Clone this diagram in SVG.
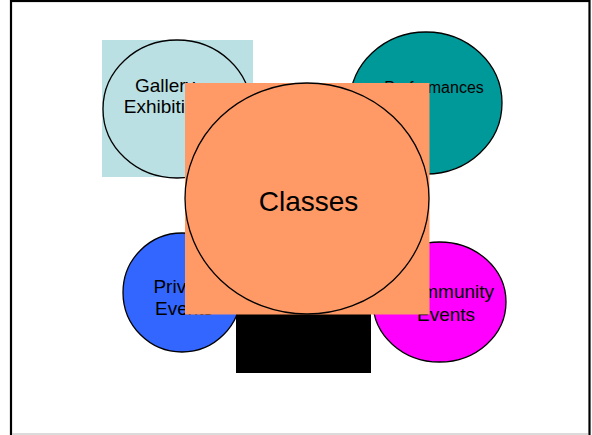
<svg xmlns="http://www.w3.org/2000/svg" width="592" height="435" viewBox="0 0 592 435">
  <style>
    .outline { stroke: #000; stroke-width: 1.3; }
    .label { font-family: "Liberation Sans", Arial, sans-serif; fill: #000; text-anchor: middle; }
  </style>
  <rect width="592" height="435" fill="#fff"/>
  <!-- slide frame -->
  <rect id="frame" x="11" y="1" width="578.5" height="460" fill="none" stroke="#000" stroke-width="2.2"/>
  <line x1="12" y1="434" x2="588" y2="434" stroke="#cfcfcf" stroke-width="1.5"/>

  <g id="gallery">
    <rect x="102" y="40" width="151" height="137" fill="#bbe0e3"/>
    <ellipse cx="177" cy="109" rx="74" ry="69" fill="#bbe0e3" class="outline"/>
    <text class="label" font-size="19" x="165" y="92">Gallery</text>
    <text class="label" font-size="19" x="165" y="113">Exhibition</text>
  </g>

  <g id="performances">
    <ellipse cx="426" cy="103" rx="76" ry="71" fill="#009999" class="outline"/>
    <text class="label" font-size="16" x="434" y="93">Performances</text>
  </g>

  <g id="private-events">
    <ellipse cx="182" cy="292.5" rx="59" ry="59.5" fill="#3366ff" class="outline"/>
    <text class="label" font-size="19" x="183" y="293">Private</text>
    <text class="label" font-size="19" x="184" y="315">Events</text>
  </g>

  <g id="community-events">
    <ellipse cx="439.5" cy="302" rx="66.5" ry="60" fill="#ff00ff" class="outline"/>
    <text class="label" font-size="19" x="446" y="298">Community</text>
    <text class="label" font-size="19" x="446" y="321">Events</text>
  </g>

  <g id="black-block">
    <rect x="236" y="300" width="135" height="73" fill="#000"/>
  </g>

  <g id="classes">
    <rect x="185" y="83" width="244.5" height="231.5" fill="#ff9966"/>
    <ellipse cx="307" cy="198.5" rx="122" ry="115.5" fill="#ff9966" class="outline"/>
    <text class="label" font-size="28" x="308.5" y="211">Classes</text>
  </g>
</svg>
